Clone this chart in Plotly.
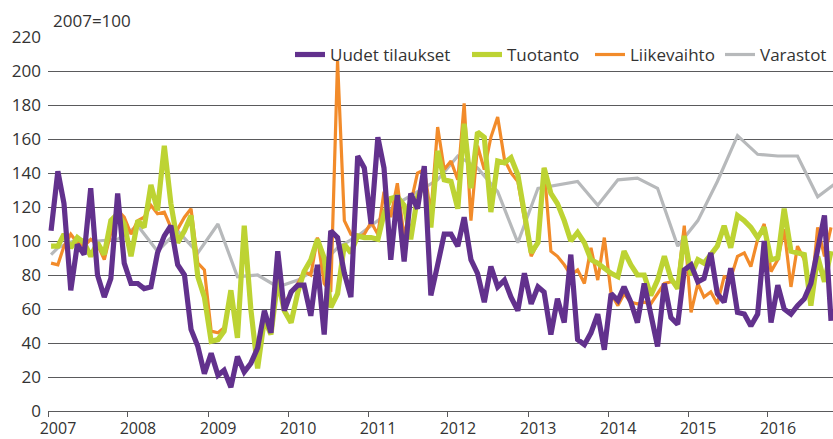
import pandas as pd
import plotly.graph_objects as go

# Monthly index values, Jan 2007 .. Oct 2016 (2007=100)
start_month = "2007-01"
n_months = 118

uudet_tilaukset = [
    106, 141, 122, 71, 98, 92, 131, 80, 67, 78, 128, 87,
    75, 75, 72, 73, 93, 103, 109, 86, 80, 48, 38, 22,
    34, 21, 24, 14, 32, 23, 28, 37, 59, 46, 94, 59,
    70, 74, 74, 56, 86, 45, 106, 102, 81, 67, 150, 143,
    110, 161, 143, 89, 127, 88, 128, 119, 144, 68, 86, 104,
    104, 97, 114, 89, 81, 64, 85, 73, 77, 67, 59, 81,
    63, 73, 70, 45, 66, 52, 92, 42, 39, 46, 57, 36,
    69, 65, 73, 64, 52, 75, 57, 38, 75, 55, 51, 83,
    86, 76, 78, 93, 69, 64, 84, 58, 57, 50, 57, 100,
    52, 74, 60, 57, 62, 66, 75, 95, 115, 53,
]

tuotanto = [
    97, 97, 104, 96, 102, 99, 91, 99, 92, 112, 116, 110,
    91, 112, 108, 133, 118, 156, 122, 99, 106, 115, 79, 67,
    41, 42, 47, 71, 43, 109, 60, 25, 54, 45, 77, 59,
    52, 70, 82, 89, 101, 90, 61, 69, 98, 93, 103, 102,
    102, 101, 116, 125, 126, 121, 101, 126, 134, 108, 153, 136,
    135, 119, 169, 131, 164, 161, 117, 147, 146, 149, 139, 118,
    93, 99, 143, 128, 122, 112, 100, 105, 99, 89, 87, 84,
    81, 79, 94, 86, 80, 80, 68, 77, 91, 78, 72, 103,
    80, 89, 87, 92, 97, 109, 96, 115, 112, 108, 102, 108,
    89, 90, 119, 94, 93, 92, 62, 91, 76, 94,
]

liikevaihto = [
    87, 86, 97, 104, 99, 97, 101, 98, 89, 105, 118, 114,
    104, 112, 114, 121, 116, 117, 108, 107, 114, 119, 87, 83,
    47, 46, 49, 70, 45, 105, 58, 30, 55, 47, 80, 64,
    69, 75, 82, 80, 102, 75, 70, 206, 112, 104, 102, 104,
    111, 104, 129, 114, 134, 102, 122, 140, 142, 116, 167, 142,
    147, 136, 181, 112, 156, 142, 161, 173, 148, 140, 135, 114,
    91, 99, 143, 94, 91, 86, 80, 83, 75, 96, 77, 102,
    69, 62, 69, 64, 63, 64, 63, 69, 75, 76, 75, 109,
    58, 75, 67, 70, 63, 79, 78, 91, 93, 85, 101, 110,
    82, 89, 107, 73, 97, 89, 67, 108, 91, 108,
]

# Inventories: quarterly (mid-quarter months) plus the first month
varastot_months = ["2007-01"] + [
    str(p) for p in pd.period_range("2007-02", periods=40, freq="3M")
]
varastot = [
    92, 96, 101, 100, 101, 109, 94, 106, 93, 110, 79, 80,
    73, 77, 84, 96, 103, 112, 122, 129, 136, 150, 143, 129,
    99, 131, 133, 135, 121, 136, 137, 131, 97, 112, 135, 162,
    151, 150, 150, 126, 135,
]

series_names = ["Uudet tilaukset", "Tuotanto", "Liikevaihto", "Varastot"]
tick_years = [str(y) for y in range(2007, 2017)]

months = pd.period_range(start_month, periods=n_months, freq="M")
x_month = [p.to_timestamp() + pd.Timedelta(days=14) for p in months]
x_var = [pd.Period(m, freq="M").to_timestamp() + pd.Timedelta(days=14) for m in varastot_months]

colors = {
    "Uudet tilaukset": "#62318d",
    "Tuotanto": "#bdd333",
    "Liikevaihto": "#f28b2a",
    "Varastot": "#b7b9bb",
}
widths = {"Uudet tilaukset": 5.2, "Tuotanto": 5.2, "Liikevaihto": 3.2, "Varastot": 3.2}
legend_ids = {"Uudet tilaukset": "legend", "Tuotanto": "legend2",
              "Liikevaihto": "legend3", "Varastot": "legend4"}
# left edge of each legend entry, in pixels from the plot's left edge
legend_left_px = {"Uudet tilaukset": 242, "Tuotanto": 419,
                  "Liikevaihto": 542, "Varastot": 672}

plot_left, plot_width = 48, 785

fig = go.Figure()
draw = [
    ("Varastot", x_var, varastot),
    ("Liikevaihto", x_month, liikevaihto),
    ("Tuotanto", x_month, tuotanto),
    ("Uudet tilaukset", x_month, uudet_tilaukset),
]
for name, xs, ys in draw:
    fig.add_trace(go.Scatter(
        x=xs, y=ys, name=name, mode="lines",
        line=dict(color=colors[name], width=widths[name], shape="linear"),
        legend=legend_ids[name],
    ))

font_family = "Open Sans, Noto Sans, sans-serif"
text_col = "#333333"
grid_col = "#5a5a5c"
fs = 17

legend_layout = {}
for name in series_names:
    legend_layout[legend_ids[name]] = dict(
        orientation="h",
        x=legend_left_px[name] / plot_width, xanchor="left",
        y=0.952, yanchor="middle",
        bgcolor="rgba(0,0,0,0)", borderwidth=0,
        font=dict(size=fs, color=text_col, family=font_family),
    )

fig.update_layout(
    width=833, height=439,
    margin=dict(l=plot_left, r=0, t=37, b=28),
    paper_bgcolor="white", plot_bgcolor="white",
    font=dict(family=font_family, size=fs, color=text_col),
    showlegend=True,
    xaxis=dict(
        type="date",
        range=["2007-01-01", "2016-10-24"],
        tickvals=[f"{y}-01-01" for y in tick_years],
        ticktext=tick_years,
        ticks="outside", ticklen=5, tickcolor=grid_col, tickwidth=1.3,
        showgrid=False, showline=True, linecolor=grid_col, linewidth=1.3,
        zeroline=False, automargin=False,
        tickfont=dict(size=16, color=text_col),
        ticklabelshift=10, ticklabelstandoff=-2,
    ),
    yaxis=dict(
        range=[0, 220], dtick=20, tick0=0,
        showgrid=True, gridcolor=grid_col, gridwidth=1.3,
        zeroline=False, showline=False, ticks="", automargin=False,
        tickfont=dict(size=fs, color=text_col),
        ticklabelstandoff=6,
    ),
    annotations=[dict(
        text="2007=100", xref="paper", yref="paper",
        x=0.004, y=1.045, xanchor="left", yanchor="middle",
        showarrow=False, font=dict(size=fs, color=text_col),
    )],
    **legend_layout,
)

fig.write_html(
    "out.html",
    config={"displayModeBar": False},
    post_script="document.body.style.margin='0px';",
)
